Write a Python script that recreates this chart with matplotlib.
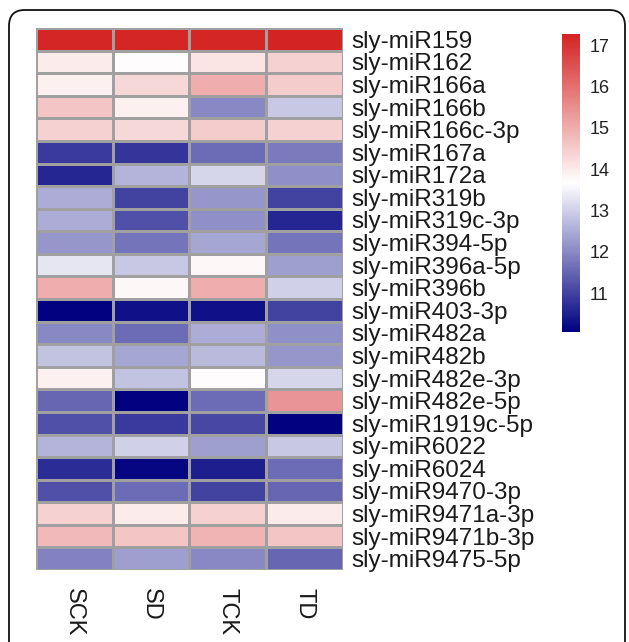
import numpy as np
import matplotlib
matplotlib.use("Agg")
import matplotlib.pyplot as plt
from matplotlib.colors import LinearSegmentedColormap
from matplotlib.patches import FancyBboxPatch

mirnas = ["sly-miR159", "sly-miR162", "sly-miR166a", "sly-miR166b", "sly-miR166c-3p",
          "sly-miR167a", "sly-miR172a", "sly-miR319b", "sly-miR319c-3p", "sly-miR394-5p",
          "sly-miR396a-5p", "sly-miR396b", "sly-miR403-3p", "sly-miR482a", "sly-miR482b",
          "sly-miR482e-3p", "sly-miR482e-5p", "sly-miR1919c-5p", "sly-miR6022", "sly-miR6024",
          "sly-miR9470-3p", "sly-miR9471a-3p", "sly-miR9471b-3p", "sly-miR9475-5p"]
samples = ["SCK", "SD", "TCK", "TD"]

SCK = [17.2, 14.0, 13.9, 14.6, 14.4, 10.9, 10.6, 12.5, 12.5, 12.2, 13.3, 15.0,
       10.1, 12.0, 12.8, 13.9, 11.5, 11.2, 12.6, 10.7, 11.2, 14.4, 14.8, 11.9]
SD = [17.2, 13.7, 14.3, 13.9, 14.3, 10.8, 12.6, 11.0, 11.2, 11.7, 12.9, 13.8,
      10.3, 11.6, 12.4, 12.8, 10.1, 10.9, 13.0, 10.15, 11.6, 14.0, 14.6, 12.3]
TCK = [17.2, 14.1, 15.0, 12.0, 14.5, 11.6, 13.1, 12.2, 12.1, 12.4, 13.8, 15.0,
       10.3, 12.5, 12.7, 13.7, 11.6, 11.1, 12.3, 10.5, 11.0, 14.4, 14.9, 12.0]
TD = [17.27, 14.4, 14.5, 12.9, 14.4, 11.8, 12.1, 11.0, 10.6, 11.7, 12.3, 13.0,
      11.0, 12.1, 12.2, 13.1, 15.4, 10.1, 12.9, 11.6, 11.5, 14.0, 14.6, 11.5]

cbar_ticks = [11, 12, 13, 14, 15, 16, 17]
vmin, vmax = 10.06, 17.27

plt.rcParams['font.family'] = ['Liberation Sans', 'DejaVu Sans']

data = np.array([SCK, SD, TCK, TD]).T
cmap = LinearSegmentedColormap.from_list("pheat", ["#000080", "#FFFFFF", "#D42323"], N=256)

fig = plt.figure(figsize=(6.29, 6.42), dpi=100)

ax = fig.add_axes([36/629, 1-570/642, 307/629, 542/642])
mesh = ax.pcolormesh(data, cmap=cmap, vmin=vmin, vmax=vmax,
                     edgecolors="#a0a0a0", linewidth=0.9)
ax.set_xlim(0, len(samples))
ax.set_ylim(len(mirnas), 0)
for s in ax.spines.values():
    s.set_visible(False)
ax.yaxis.tick_right()
ax.set_yticks(np.arange(len(mirnas)) + 0.5)
ax.set_yticklabels(mirnas, fontsize=17.5, color="#1a1a1a")
ax.set_xticks(np.arange(len(samples)) + 0.5)
ax.set_xticklabels(samples, fontsize=17, rotation=-90, color="#1a1a1a", va="top")
ax.tick_params(axis="y", length=0, pad=6)
ax.tick_params(axis="x", length=0, pad=13)

cax = fig.add_axes([562/629, 1-332/642, 18/629, 298/642])
cb = fig.colorbar(mesh, cax=cax, ticks=cbar_ticks)
cb.outline.set_visible(False)
cax.tick_params(length=0, pad=7, labelsize=13, colors="#222222")

frame = FancyBboxPatch((9/629, -0.05), (625-9)/629, (1-10/642) + 0.05,
                       boxstyle="round,pad=0,rounding_size=0.025",
                       transform=fig.transFigure, fill=False,
                       edgecolor="#111111", linewidth=1.3, clip_on=False)
fig.patches.append(frame)

fig.savefig("out.png", dpi=100)
